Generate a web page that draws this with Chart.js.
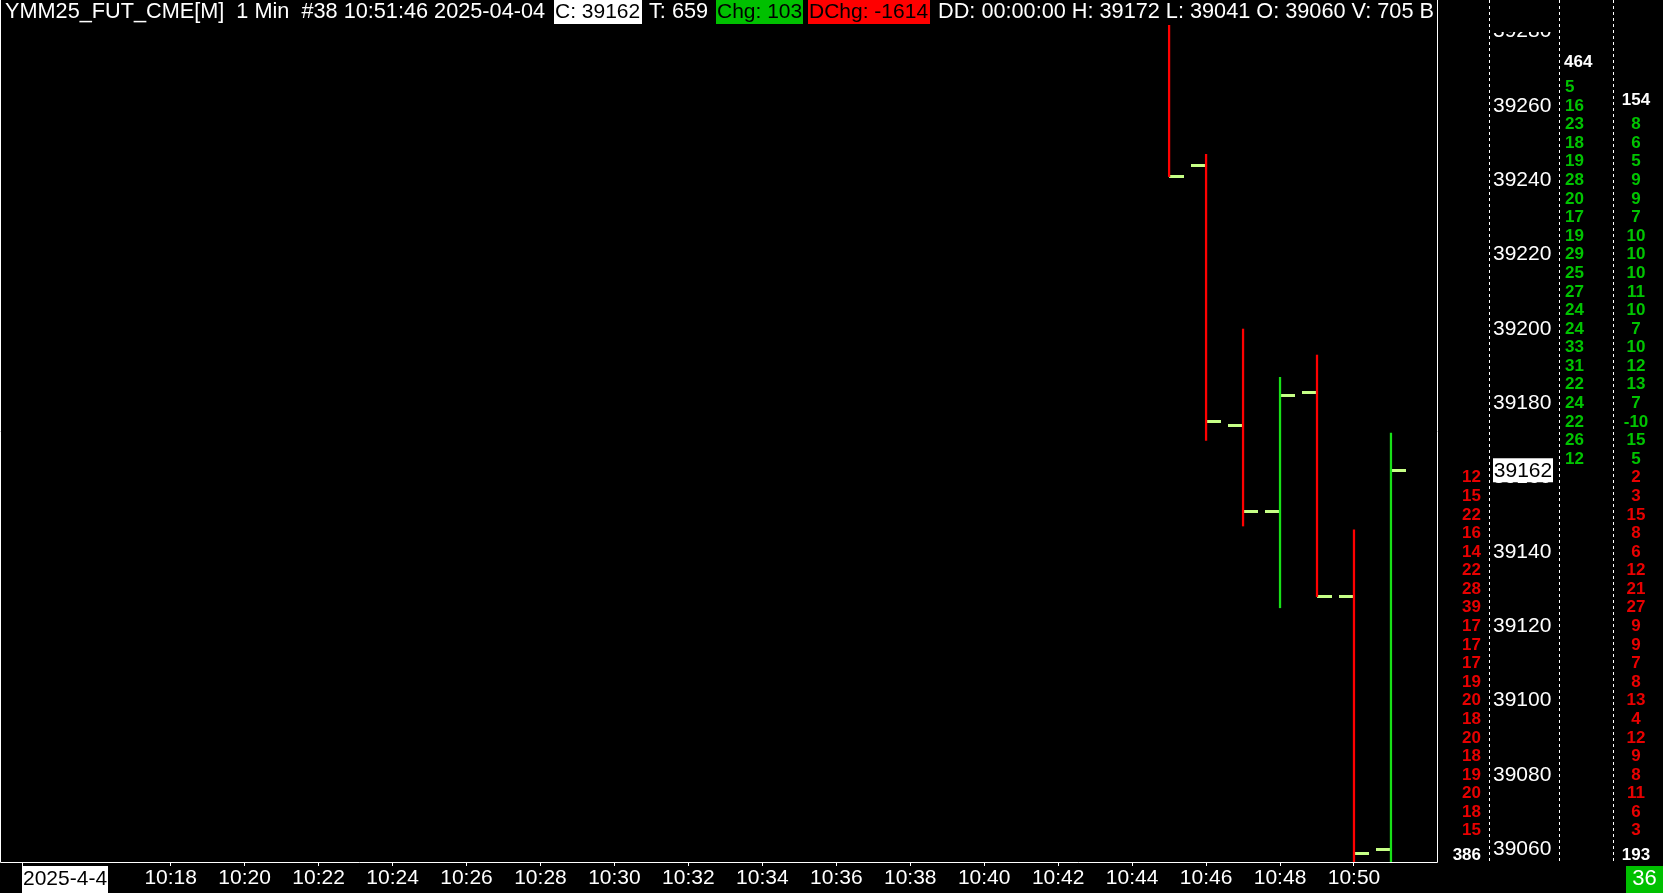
<!DOCTYPE html>
<html><head><meta charset="utf-8">
<script src="https://cdn.jsdelivr.net/npm/chart.js@4.4.1/dist/chart.umd.min.js"></script>
<style>html,body{margin:0;padding:0;background:#000;overflow:hidden}canvas{display:block}</style>
</head><body>
<canvas id="c" width="1663" height="893"></canvas>
<script>
// ---------- data ----------
const barTimes = ['10:45','10:46','10:47','10:48','10:49','10:50','10:51'];
const opens  = [39290, 39244, 39174, 39151, 39183, 39128, 39060];
const highs  = [39300, 39247, 39200, 39187, 39193, 39146, 39172];
const lows   = [39241, 39170, 39147, 39125, 39128, 39050, 39041];
const closes = [39241, 39175, 39151, 39182, 39128, 39059, 39162];

const timeTickLabels = ['10:14','10:18','10:20','10:22','10:24','10:26','10:28','10:30','10:32','10:34','10:36','10:38','10:40','10:42','10:44','10:46','10:48','10:50'];
const dateLabel = '2025-4-4';
const priceTickLabels = [39060, 39080, 39100, 39120, 39140, 39160, 39180, 39200, 39220, 39240, 39260, 39280];

const askLevels  = [39265,39260,39255,39250,39245,39240,39235,39230,39225,39220,39215,39210,39205,39200,39195,39190,39185,39180,39175,39170,39165];
const askVolumes = [5,16,23,18,19,28,20,17,19,29,25,27,24,24,33,31,22,24,22,26,12];
const bidLevels  = [39160,39155,39150,39145,39140,39135,39130,39125,39120,39115,39110,39105,39100,39095,39090,39085,39080,39075,39070,39065];
const bidVolumes = [12,15,22,16,14,22,28,39,17,17,17,19,20,18,20,18,19,20,18,15];
const deltaLevels = [39255,39250,39245,39240,39235,39230,39225,39220,39215,39210,39205,39200,39195,39190,39185,39180,39175,39170,39165,
                     39160,39155,39150,39145,39140,39135,39130,39125,39120,39115,39110,39105,39100,39095,39090,39085,39080,39075,39070,39065];
const deltaValues = [8,6,5,9,9,7,10,10,10,11,10,7,10,12,13,7,-10,15,5,
                     2,3,15,8,6,12,21,27,9,9,7,8,13,4,12,9,8,11,6,3];
const askTotal = 464, bidTotal = 386, deltaTopTotal = 154, deltaBottomTotal = 193, badgeValue = 36;

const headerTexts = ['YMM25_FUT_CME[M]  1 Min  #38 10:51:46 2025-04-04', 'C: 39162', 'T: 659', 'Chg: 103', 'DChg: -1614', 'DD: 00:00:00 H: 39172 L: 39041 O: 39060 V: 705 B'];

// ---------- styles / layout ----------
const FONT = '"Liberation Sans", Arial, sans-serif';
const headerLayout = [
  {x: 5, fg: '#ffffff'},
  {x: 554, w: 88, bg: '#ffffff', fg: '#000000'},
  {x: 649, fg: '#ffffff'},
  {x: 716, w: 87, bg: '#00c000', fg: '#000000'},
  {x: 808, w: 122, bg: '#ff0000', fg: '#000000'},
  {x: 938, fg: '#ffffff'}
];
const UP = '#18e018', DOWN = '#ff0000', TICK = '#c6ff86';
const TXT_GREEN = '#00c400', TXT_RED = '#e80000';

const toMin = s => { const [h, m] = s.split(':').map(Number); return h * 60 + m; };

function tickImage(side) {
  const c = document.createElement('canvas');
  c.width = 30; c.height = 3;
  const g = c.getContext('2d');
  g.fillStyle = TICK;
  g.fillRect(side === 'left' ? 0 : 15, 0, 15, 3);
  return c;
}
const openImg = tickImage('left');
const closeImg = tickImage('right');

const lastClose = closes[closes.length - 1];

const overlay = {
  id: 'overlay',
  beforeDraw(chart) {
    const ctx = chart.ctx;
    ctx.save();
    ctx.fillStyle = '#000';
    ctx.fillRect(0, 0, chart.width, chart.height);
    ctx.restore();
  },
  afterDraw(chart) {
    const ctx = chart.ctx;
    const a = chart.chartArea;
    const y = chart.scales.y;
    ctx.save();
    // frame
    ctx.strokeStyle = '#ffffff';
    ctx.lineWidth = 1;
    ctx.beginPath();
    ctx.moveTo(0.5, 0); ctx.lineTo(0.5, a.bottom + 0.5);
    ctx.lineTo(a.right + 0.5, a.bottom + 0.5); ctx.lineTo(a.right + 0.5, 0);
    ctx.stroke();
    // cover top of clipped price label
    ctx.fillStyle = '#000';
    ctx.fillRect(a.right + 54, 0, 68, 32);
    // dashed separators
    ctx.setLineDash([3, 3]);
    ctx.beginPath();
    [1489.5, 1559.5, 1613.5].forEach(x => { ctx.moveTo(x, 0); ctx.lineTo(x, a.bottom + 1); });
    ctx.stroke();
    ctx.setLineDash([]);

    // header
    ctx.textBaseline = 'middle';
    ctx.textAlign = 'left';
    headerTexts.forEach((t, i) => {
      const L = headerLayout[i];
      if (L.bg) { ctx.fillStyle = L.bg; ctx.fillRect(L.x, 0, L.w, 24); }
      ctx.font = (L.bg ? '21px ' : '21.7px ') + FONT;
      ctx.fillStyle = L.fg;
      ctx.fillText(t, L.x + (L.bg ? 1 : 0), 12.5);
    });

    // volume ladders
    ctx.font = 'bold 17px ' + FONT;
    ctx.textAlign = 'right';
    ctx.fillStyle = TXT_RED;
    bidLevels.forEach((p, i) => ctx.fillText(String(bidVolumes[i]), 1481, y.getPixelForValue(p)));
    ctx.textAlign = 'left';
    ctx.fillStyle = TXT_GREEN;
    askLevels.forEach((p, i) => ctx.fillText(String(askVolumes[i]), 1565, y.getPixelForValue(p)));
    ctx.textAlign = 'center';
    deltaLevels.forEach((p, i) => {
      ctx.fillStyle = p > lastClose ? TXT_GREEN : TXT_RED;
      ctx.fillText(String(deltaValues[i]), 1636, y.getPixelForValue(p));
    });
    ctx.fillStyle = '#ffffff';
    ctx.textAlign = 'left';
    ctx.fillText(String(askTotal), 1564, y.getPixelForValue(askLevels[0]) - 25);
    ctx.textAlign = 'center';
    ctx.fillText(String(deltaTopTotal), 1636, y.getPixelForValue(deltaLevels[0]) - 24);
    ctx.fillText(String(deltaBottomTotal), 1636, y.getPixelForValue(deltaLevels[deltaLevels.length - 1]) + 25);
    ctx.textAlign = 'right';
    ctx.fillText(String(bidTotal), 1481, y.getPixelForValue(bidLevels[bidLevels.length - 1]) + 25);

    // current price box
    const cy = y.getPixelForValue(lastClose);
    ctx.fillStyle = '#ffffff';
    ctx.fillRect(1493, cy - 12, 60, 24);
    ctx.fillStyle = '#000';
    ctx.font = '21px ' + FONT;
    ctx.textAlign = 'center';
    ctx.fillText(String(lastClose), 1523, cy + 1);

    // date badge
    ctx.fillStyle = '#ffffff';
    ctx.fillRect(22, a.bottom + 4, 86, chart.height - a.bottom - 4);
    ctx.fillStyle = '#000';
    ctx.textAlign = 'left';
    ctx.fillText(dateLabel, 23, a.bottom + 17);

    // bottom-right badge
    ctx.fillStyle = '#00c000';
    ctx.fillRect(1626, a.bottom + 4, 37, chart.height - a.bottom - 4);
    ctx.fillStyle = '#ffffff';
    ctx.font = '22px ' + FONT;
    ctx.textAlign = 'center';
    ctx.fillText(String(badgeValue), 1644.5, a.bottom + 17);
    ctx.restore();
  }
};

const xs = barTimes.map(toMin);
new Chart(document.getElementById('c'), {
  data: {
    datasets: [
      {
        type: 'bar',
        data: xs.map((x, i) => ({x, y: [lows[i], highs[i]]})),
        backgroundColor: xs.map((x, i) => closes[i] >= opens[i] ? UP : DOWN),
        borderWidth: 0,
        barThickness: 1.6,
        grouped: false
      },
      {
        type: 'scatter',
        data: xs.map((x, i) => ({x, y: opens[i]})),
        pointStyle: openImg,
        pointRadius: 1,
        showLine: false
      },
      {
        type: 'scatter',
        data: xs.map((x, i) => ({x, y: closes[i]})),
        pointStyle: closeImg,
        pointRadius: 1,
        showLine: false
      }
    ]
  },
  options: {
    responsive: false,
    devicePixelRatio: 1,
    animation: false,
    events: [],
    layout: {padding: {top: 25, left: 0, right: 0, bottom: 0}, autoPadding: false},
    plugins: {legend: {display: false}, tooltip: {enabled: false}},
    scales: {
      x: {
        type: 'linear',
        position: 'bottom',
        offset: false,
        min: 613.384,
        max: 652.245,
        afterFit: s => { s.height = 31; s.paddingLeft = 0; s.paddingRight = 0; s.paddingTop = 0; s.paddingBottom = 0; },
        afterBuildTicks: s => { s.ticks = timeTickLabels.map(t => ({value: toMin(t)})); },
        border: {display: false},
        grid: {display: true, offset: false, drawOnChartArea: false, drawTicks: true, tickLength: 4, tickColor: '#ffffff', tickWidth: 1},
        ticks: {
          autoSkip: false, maxRotation: 0, padding: 0,
          color: '#ffffff', font: {family: FONT, size: 21},
          callback: (v, i) => i === 0 ? '' : timeTickLabels[i]
        }
      },
      y: {
        type: 'linear',
        position: 'right',
        min: 39056.6,
        max: 39281.8,
        afterFit: s => { s.width = 226; s.paddingLeft = 0; s.paddingRight = 0; s.paddingTop = 0; s.paddingBottom = 0; },
        afterBuildTicks: s => { s.ticks = priceTickLabels.map(v => ({value: v})); },
        border: {display: false},
        grid: {display: false, drawTicks: false},
        ticks: {
          padding: 56, crossAlign: 'near',
          color: '#ffffff', font: {family: FONT, size: 21},
          callback: v => String(v)
        }
      }
    }
  },
  plugins: [overlay]
});
</script>
</body></html>
